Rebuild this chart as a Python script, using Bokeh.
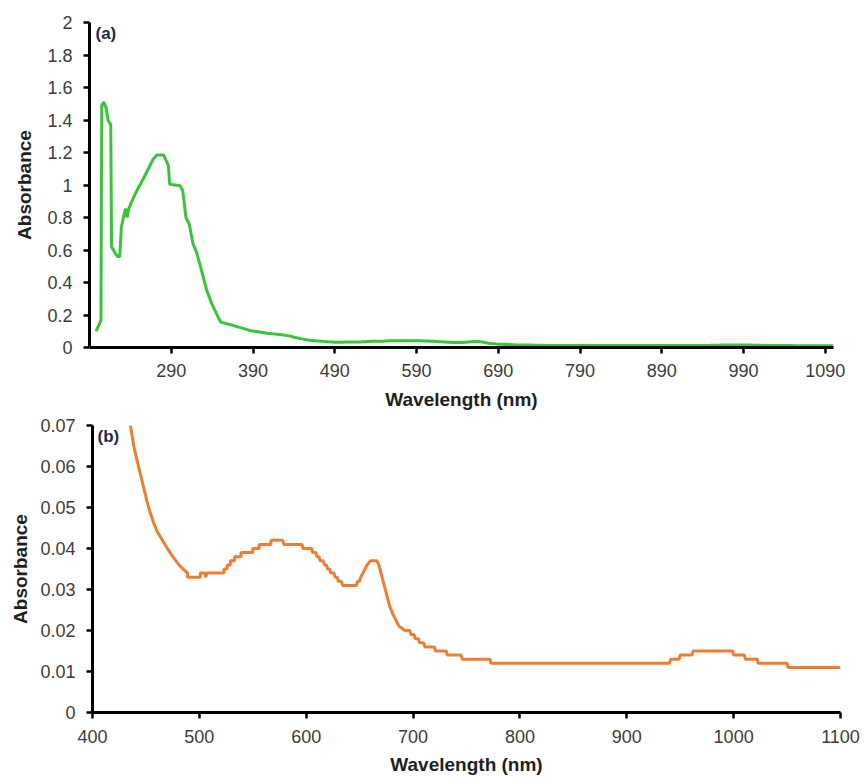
from bokeh.plotting import figure
from bokeh.models import FixedTicker, NumeralTickFormatter, Label, Range1d
from bokeh.embed import file_html
from bokeh.resources import INLINE

# ---------------- data ----------------
# UV part of the spectrum (panel a only)
uv_wavelength = [198, 203, 204, 205, 207.5, 210.5, 212.5, 216, 217, 221.5, 224.5, 227,
                 229, 231, 234, 236, 238, 244, 250, 256, 262, 268, 272.5, 280.5,
                 286.5, 288, 301, 304, 308, 312, 316.5, 321, 327, 333.5, 339.5,
                 347.5, 350.5, 366, 386, 407, 423]
uv_absorbance = [0.10, 0.155, 0.17, 1.49, 1.51, 1.47, 1.40, 1.37, 0.62, 0.58, 0.56, 0.56,
                 0.74, 0.79, 0.855, 0.80, 0.855, 0.925, 0.985, 1.04, 1.10, 1.16, 1.185, 1.185,
                 1.12, 1.005, 0.995, 0.965, 0.80, 0.76, 0.64, 0.585, 0.475, 0.35, 0.27,
                 0.185, 0.156, 0.135, 0.105, 0.088, 0.08]

# visible / NIR part (panel b, also tail of panel a)
vis_wavelength = [435.5, 438.6, 441.7, 444.9, 448, 451, 454, 457.3, 460.4, 465, 469.8, 476,
                  482, 487, 489, 489, 501, 501, 505, 506, 507, 523, 523, 526, 526, 529,
                  529, 533, 533, 539, 539, 550, 550, 556, 556, 567, 567, 578, 579, 596,
                  597, 605, 606, 609, 610, 612, 613, 616, 617, 619, 620, 622, 623, 626,
                  627, 629, 630, 633, 634, 647, 648, 650, 651, 653, 655, 657, 660, 666,
                  668, 670, 672, 675, 678, 681, 684, 687, 690, 692, 697, 698, 701, 702,
                  705, 706, 710, 711, 720, 721, 731, 732, 745, 746, 772, 773, 940, 941,
                  949, 950, 961, 962, 999, 1000, 1010, 1011, 1022, 1023, 1050, 1051, 1100]
vis_absorbance = [0.070, 0.065, 0.0615, 0.058, 0.0547, 0.0515, 0.0487, 0.0462, 0.0442, 0.0422,
                  0.0401, 0.0377, 0.0357, 0.0345, 0.034, 0.033, 0.033, 0.034, 0.034, 0.033,
                  0.034, 0.034, 0.035, 0.035, 0.036, 0.036, 0.037, 0.037, 0.038, 0.038,
                  0.039, 0.039, 0.040, 0.040, 0.041, 0.041, 0.042, 0.042, 0.041, 0.041,
                  0.040, 0.040, 0.039, 0.039, 0.038, 0.038, 0.037, 0.037, 0.036, 0.036,
                  0.035, 0.035, 0.034, 0.034, 0.033, 0.033, 0.032, 0.032, 0.031, 0.031,
                  0.032, 0.032, 0.033, 0.034, 0.035, 0.036, 0.037, 0.037, 0.036, 0.034,
                  0.032, 0.029, 0.026, 0.024, 0.0225, 0.021, 0.0205, 0.020, 0.020, 0.019,
                  0.019, 0.018, 0.018, 0.017, 0.017, 0.016, 0.016, 0.015, 0.015, 0.014,
                  0.014, 0.013, 0.013, 0.012, 0.012, 0.013, 0.013, 0.014, 0.014, 0.015,
                  0.015, 0.014, 0.014, 0.013, 0.013, 0.012, 0.012, 0.011, 0.011]

a_xticks = [290, 390, 490, 590, 690, 790, 890, 990, 1090]
a_yticks = [0, 0.2, 0.4, 0.6, 0.8, 1.0, 1.2, 1.4, 1.6, 1.8, 2.0]
b_xticks = [400, 500, 600, 700, 800, 900, 1000, 1100]
b_yticks = [0, 0.01, 0.02, 0.03, 0.04, 0.05, 0.06, 0.07]

FONT = "Liberation Sans"
TICK_COLOR = "#3c3c3c"
LABEL_COLOR = "#1e1e1e"


def style(p, xls, yls, x_label_standoff, y_label_standoff):
    p.grid.visible = False
    p.outline_line_color = None
    p.background_fill_color = "white"
    p.border_fill_color = "white"
    for ax in (p.xaxis[0], p.yaxis[0]):
        ax.axis_line_color = "black"
        ax.axis_line_width = 3
        ax.major_tick_line_color = "black"
        ax.major_tick_line_width = 2.5
        ax.major_tick_out = 6
        ax.major_tick_in = 0
        ax.minor_tick_line_color = None
        ax.major_label_text_font = FONT
        ax.major_label_text_font_size = "18px"
        ax.major_label_text_color = TICK_COLOR
        ax.axis_label_text_font = FONT
        ax.axis_label_text_font_size = "19px"
        ax.axis_label_text_font_style = "bold"
        ax.axis_label_text_color = LABEL_COLOR
    p.xaxis[0].major_label_standoff = xls
    p.yaxis[0].major_label_standoff = yls
    p.xaxis[0].axis_label_standoff = x_label_standoff
    p.yaxis[0].axis_label_standoff = y_label_standoff


# ---------------- panel (a) ----------------
p1 = figure(width=866, height=414, output_backend="svg", toolbar_location=None,
            x_range=Range1d(190, 1100), y_range=Range1d(0, 2),
            min_border_left=89, min_border_right=33, min_border_top=22, min_border_bottom=67,
            x_axis_label="Wavelength (nm)", y_axis_label="Absorbance")
p1.line(uv_wavelength + vis_wavelength, uv_absorbance + vis_absorbance,
        line_color="#3ac43a", line_width=3)
style(p1, 10, 11, 9, 9)
p1.xaxis[0].ticker = FixedTicker(ticks=a_xticks)
p1.yaxis[0].ticker = FixedTicker(ticks=a_yticks)
p1.yaxis[0].formatter = NumeralTickFormatter(format="0.[0]")
p1.add_layout(Label(x=190, y=2, x_offset=6, y_offset=-1, text="(a)", text_font=FONT,
                    text_font_size="17px", text_font_style="bold", text_color="#1c2b4a",
                    text_baseline="top", text_align="left"))

# ---------------- panel (b) ----------------
p2 = figure(width=866, height=364, output_backend="svg", toolbar_location=None,
            x_range=Range1d(400, 1100), y_range=Range1d(0, 0.07),
            min_border_left=92, min_border_right=26, min_border_top=11, min_border_bottom=66,
            x_axis_label="Wavelength (nm)", y_axis_label="Absorbance")
p2.line(vis_wavelength, vis_absorbance, line_color="#ed7d31", line_width=3)
style(p2, 11, 11, 8, 6)
p2.xaxis[0].ticker = FixedTicker(ticks=b_xticks)
p2.yaxis[0].ticker = FixedTicker(ticks=b_yticks)
p2.yaxis[0].formatter = NumeralTickFormatter(format="0.[00]")
p2.add_layout(Label(x=400, y=0.07, x_offset=5, y_offset=-1, text="(b)", text_font=FONT,
                    text_font_size="17px", text_font_style="bold", text_color="#1c2b4a",
                    text_baseline="top", text_align="left"))

open("out.html", "w").write(file_html([p1, p2], INLINE))
